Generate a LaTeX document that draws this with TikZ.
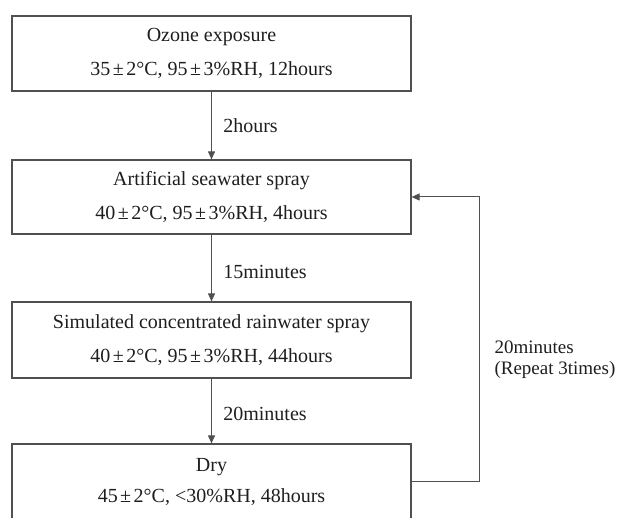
\documentclass[tikz,border=0pt]{standalone}
\usepackage{fontspec}
\setmainfont{Liberation Serif}
\usetikzlibrary{arrows.meta}
\definecolor{linegray}{HTML}{505050}
\definecolor{textgray}{HTML}{1E1E1E}
\newcommand{\tol}{\kern2.5pt±\kern2.5pt}
\begin{document}
\begin{tikzpicture}[x=1pt,y=-1pt,
    stage/.style={draw=linegray, line width=1.2pt, minimum width=399pt, inner sep=0pt,
        align=center, text=textgray, font=\fontsize{20}{34}\selectfont},
    flow/.style={draw=linegray, line width=1pt, -{Triangle[length=8pt,width=7pt]}},
    note/.style={text=textgray, font=\fontsize{20}{24}\selectfont}]
    \useasboundingbox (0,0) rectangle (627,518);

    \node[stage, minimum height=75pt] (ozone) at (211.5,53.5)
        {Ozone exposure\\35\tol2°C, 95\tol3\%RH, 12hours};
    \node[stage, minimum height=74pt] (seawater) at (211.5,197)
        {Artificial seawater spray\\40\tol2°C, 95\tol3\%RH, 4hours};
    \node[stage, minimum height=76pt] (rain) at (211.5,340)
        {Simulated concentrated rainwater spray\\40\tol2°C, 95\tol3\%RH, 44hours};
    \node[stage, minimum height=76pt, font=\fontsize{20}{31}\selectfont] (dry) at (211.5,482)
        {Dry\\45\tol2°C, <30\%RH, 48hours};

    \draw[flow] (ozone) -- node[note, anchor=west, xshift=8pt] (gap1) {2hours} (seawater);
    \draw[flow] (seawater) -- node[note, anchor=west, xshift=8pt, pos=0.56] (gap2) {15minutes} (rain);
    \draw[flow] (rain) -- node[note, anchor=west, xshift=8pt, pos=0.55] (gap3) {20minutes} (dry);

    \coordinate (loop) at (479,482);
    \draw[flow] (dry.east) -- (loop) |- (seawater.east);
    \node[note, anchor=west, align=left, font=\fontsize{19}{21}\selectfont] (cycle) at (491,360)
        {20minutes\\(Repeat 3times)};

\end{tikzpicture}
\end{document}
